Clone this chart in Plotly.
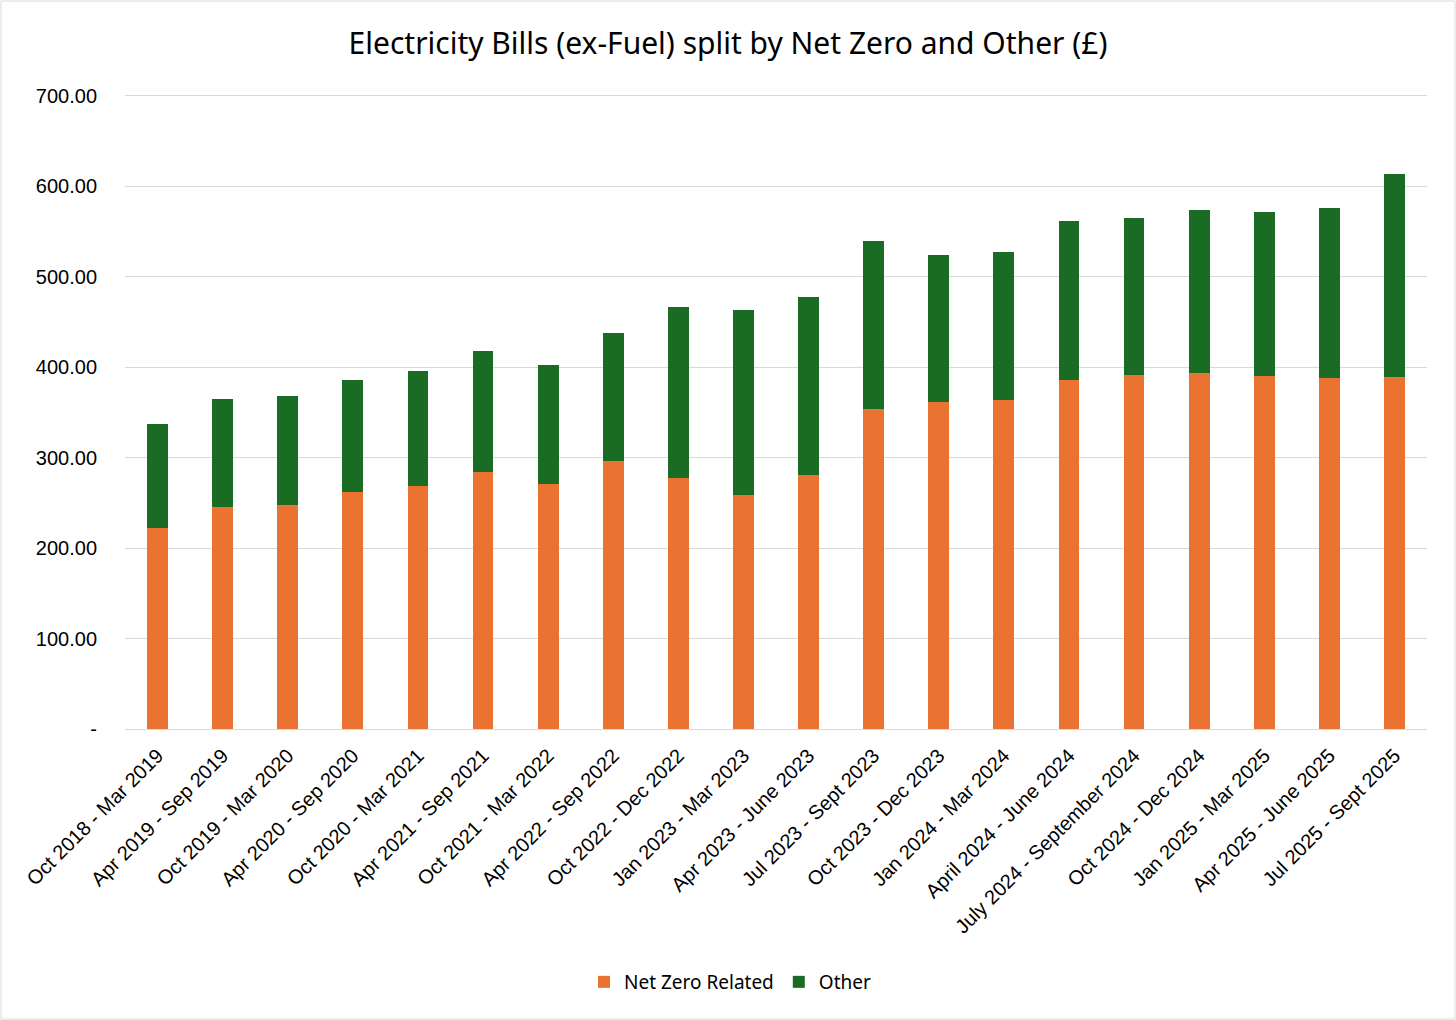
import plotly.graph_objects as go

periods = [
    "Oct 2018 - Mar 2019", "Apr 2019 - Sep 2019", "Oct 2019 - Mar 2020",
    "Apr 2020 - Sep 2020", "Oct 2020 - Mar 2021", "Apr 2021 - Sep 2021",
    "Oct 2021 - Mar 2022", "Apr 2022 - Sep 2022", "Oct 2022 - Dec 2022",
    "Jan 2023 - Mar 2023", "Apr 2023 - June 2023", "Jul 2023 - Sept 2023",
    "Oct 2023 - Dec 2023", "Jan 2024 - Mar 2024", "April 2024 - June 2024",
    "July 2024 - September 2024", "Oct 2024 - Dec 2024", "Jan 2025 - Mar 2025",
    "Apr 2025 - June 2025", "Jul 2025 - Sept 2025",
]

# values (£)
net_zero = [222, 245, 248, 262, 269, 284, 271, 296, 278, 259,
            281, 354, 362, 364, 386, 391, 393, 390, 388, 389]
total = [337, 365, 368, 386, 396, 418, 402, 438, 466, 463,
         478, 539, 524, 527, 561, 565, 574, 572, 576, 613]
other = [t - n for t, n in zip(total, net_zero)]

y_ticks = [0, 100, 200, 300, 400, 500, 600, 700]
y_labels = ["-"] + [f"{v:.2f}" for v in y_ticks[1:]]

fig = go.Figure()
fig.add_trace(go.Bar(x=periods, y=net_zero, name="Net Zero Related",
                     marker_color="#EB7331", marker_line_width=0))
fig.add_trace(go.Bar(x=periods, y=other, name="Other",
                     marker_color="#1A6B23", marker_line_width=0))

W, H = 1456, 1020
ml, mr, mt, mb = 125, 29, 93, 291
pw, ph = W - ml - mr, H - mt - mb

fig.update_layout(
    width=W, height=H,
    barmode="stack", bargap=0.68,
    paper_bgcolor="white", plot_bgcolor="white",
    margin=dict(l=ml, r=mr, t=mt, b=mb, autoexpand=False),
    font=dict(family="Liberation Sans, Arial, sans-serif", size=19, color="#000000"),
    title=dict(text="Electricity Bills (ex-Fuel) split by Net Zero and Other (£)",
               x=0.5, xanchor="center", y=1 - 43 / H, yanchor="middle",
               font=dict(family="Noto Sans, sans-serif", size=30, color="#000000")),
    showlegend=True,
    legend=dict(orientation="h", x=(730 - ml) / pw, xanchor="center",
                y=-(982 - 729) / ph, yanchor="middle",
                font=dict(family="Noto Sans, sans-serif", size=19),
                itemwidth=30, traceorder="normal"),
    xaxis=dict(tickangle=-45, showgrid=False, showline=True, linecolor="#D9D9D9",
               linewidth=1, ticks="", ticklabelstandoff=6, tickfont=dict(size=20)),
    yaxis=dict(range=[0, 703], tickvals=y_ticks, ticktext=y_labels,
               showgrid=True, gridcolor="#D9D9D9", gridwidth=1, zeroline=False,
               showline=False, ticks="", ticklabelstandoff=27,
               tickfont=dict(size=20)),
    shapes=[dict(type="rect", xref="paper", yref="paper",
                 x0=-(ml - 1) / pw, x1=1 + (mr - 1) / pw,
                 y0=-(mb - 1) / ph, y1=1 + (mt - 1) / ph,
                 line=dict(color="#D9D9D9", width=1))],
)

fig.write_html("out.html", config={"displayModeBar": False},
               post_script="document.body.style.margin='0';")
